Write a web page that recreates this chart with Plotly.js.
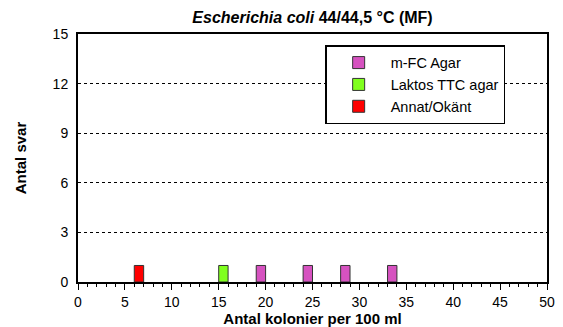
<!DOCTYPE html>
<html><head><meta charset="utf-8">
<script src="https://cdn.plot.ly/plotly-3.0.1.min.js"></script>
<style>html,body{margin:0;padding:0;background:#fff;}#c{width:563px;height:327px;}</style>
</head><body><div id="c"></div>
<script>
const seriesNames = ["m-FC Agar", "Laktos TTC agar", "Annat/Okänt"];
const mfcBins = [19, 24, 28, 33];
const mfcCounts = [1, 1, 1, 1];
const laktosBins = [15];
const laktosCounts = [1];
const annatBins = [6];
const annatCounts = [1];
const colors = ["#D652C0", "#80FF1E", "#FF0000"];

function bar(name, x, y, color) {
  return {type: 'bar', name: name, x: x, y: y, width: 1, offset: 0,
    marker: {color: color, line: {color: '#333', width: 1}}};
}
const data = [
  bar(seriesNames[0], mfcBins, mfcCounts, colors[0]),
  bar(seriesNames[1], laktosBins, laktosCounts, colors[1]),
  bar(seriesNames[2], annatBins, annatCounts, colors[2])
];
const font = {family: 'Liberation Sans, Arial, sans-serif', color: '#000'};
const layout = {
  width: 563, height: 327,
  margin: {l: 78, r: 16, t: 34, b: 45},
  paper_bgcolor: '#fff', plot_bgcolor: '#fff',
  font: Object.assign({size: 14}, font),
  title: {text: '<b><i>Escherichia coli</i> 44/44,5 °C (MF)</b>', x: 0.5, xref: 'paper', yref: 'container', y: 0.947, yanchor: 'middle', font: Object.assign({size: 16}, font)},
  showlegend: true,
  legend: {x: 0.527, y: 0.955, xanchor: 'left', yanchor: 'top', bordercolor: '#000', borderwidth: 1.5, bgcolor: '#fff',
    font: Object.assign({size: 14.5}, font), traceorder: 'normal', itemwidth: 54, tracegroupgap: 0},
  xaxis: {range: [0, 50], dtick: 5, tick0: 0, ticks: 'outside', ticklen: 6, tickwidth: 1, tickcolor: '#000',
    showline: true, linewidth: 2, linecolor: '#000', mirror: true, showgrid: false, zeroline: false,
    minor: {dtick: 1, ticks: 'outside', ticklen: 3, tickwidth: 1, tickcolor: '#000', showgrid: false},
    tickfont: Object.assign({size: 14}, font),
    title: {text: '<b>Antal kolonier per 100 ml</b>', standoff: 2, font: Object.assign({size: 15}, font)}},
  yaxis: {range: [0, 15], dtick: 3, tick0: 0, ticks: '', showline: true, linewidth: 2, linecolor: '#000', mirror: true,
    showgrid: true, gridcolor: '#000', gridwidth: 1, griddash: '3px,3px', zeroline: false,
    ticklabelstandoff: 5,
    tickfont: Object.assign({size: 14}, font),
    title: {text: '<b>Antal svar</b>', standoff: 22, font: Object.assign({size: 15}, font)}},
  bargap: 0
};
Plotly.newPlot('c', data, layout, {displayModeBar: false, staticPlot: true});
</script></body></html>
